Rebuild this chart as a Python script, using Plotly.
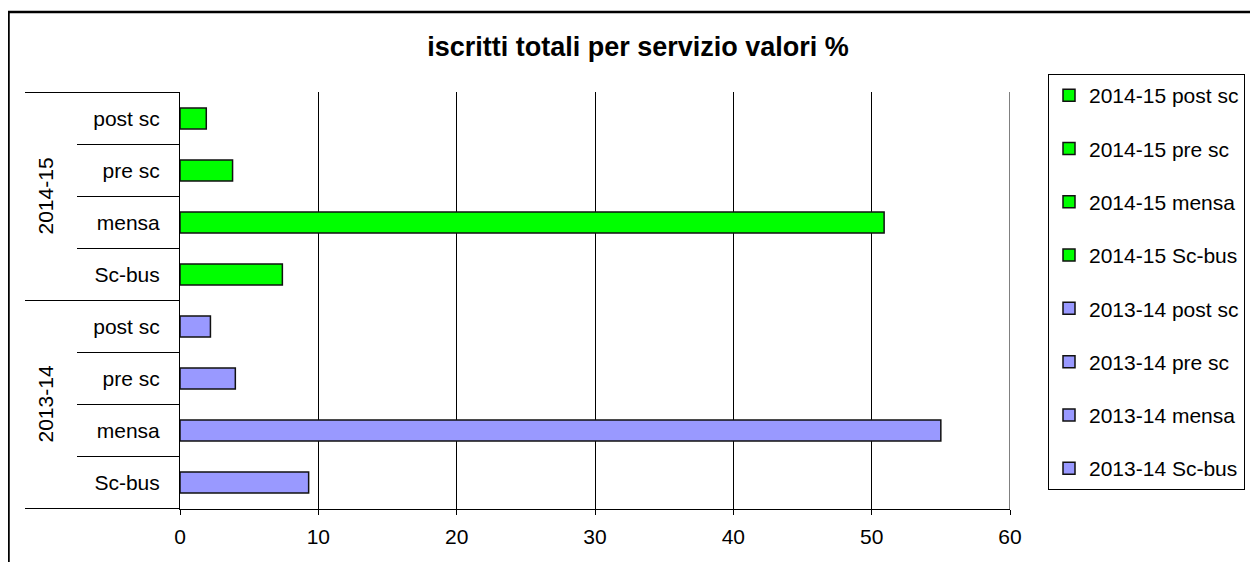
import plotly.graph_objects as go

# DATA
groups = ['2014-15', '2013-14']
services = ['post sc', 'pre sc', 'mensa', 'Sc-bus']
values_2014_15 = [1.9, 3.8, 50.9, 7.4]
values_2013_14 = [2.2, 4.0, 55.0, 9.3]
x_ticks = [0, 10, 20, 30, 40, 50, 60]

GREEN = '#00FF00'
LAVENDER = '#9999FF'
FONT = 'Liberation Sans, Arial, sans-serif'

# the page body adds an 8px offset, so the figure is drawn 8px smaller
OFF = 8
W, H = 1258 - OFF, 562 - OFF
L, R, T, B = 180, 1010, 92, 509   # plot area, in page pixels


def px_x(p):
    return (p - L) / (R - L)


def px_y(p):
    return (B - p) / (B - T)


# categories bottom-up
cat_order = []
for g in reversed(groups):
    for s in reversed(services):
        cat_order.append(f'{g} {s}')

fig = go.Figure()
series = [(groups[0], values_2014_15, GREEN), (groups[1], values_2013_14, LAVENDER)]
for g, vals, col in series:
    for s, v in zip(services, vals):
        name = f'{g} {s}'
        fig.add_trace(go.Bar(
            x=[v], y=[name], orientation='h', name=name, legendgroup=name,
            width=0.4,
            marker=dict(color=col, line=dict(color='#111111', width=1.5)),
        ))

shapes = []
# separators in the left margin
for i in range(len(cat_order) + 1):
    yy = i - 0.5
    x0 = 25 if i % 4 == 0 else 77
    shapes.append(dict(type='line', xref='paper', yref='y', x0=px_x(x0), x1=0,
                       y0=yy, y1=yy, line=dict(color='black', width=1)))
# gridline at the right end of the axis
shapes.append(dict(type='line', xref='x', yref='paper', x0=x_ticks[-1], x1=x_ticks[-1],
                   y0=0, y1=1, line=dict(color='black', width=1)))
# outer frame
shapes.append(dict(type='rect', xref='paper', yref='paper',
                   x0=px_x(8.5), x1=px_x(1290), y0=px_y(12), y1=px_y(600),
                   line=dict(color='black', width=2.5)))

annotations = []
for k, g in enumerate(reversed(groups)):
    annotations.append(dict(text=g, xref='paper', yref='y', x=px_x(45), y=1.5 + 4 * k,
                            xanchor='center', yanchor='middle',
                            textangle=-90, showarrow=False,
                            font=dict(size=21, color='black', family=FONT)))

fig.update_layout(
    width=W, height=H,
    margin=dict(l=L - OFF, r=W + OFF - R, t=T - OFF, b=H + OFF - B, autoexpand=False),
    paper_bgcolor='white', plot_bgcolor='white',
    font=dict(family=FONT, size=21, color='black'),
    barmode='overlay',
    title=dict(text='<b>iscritti totali per servizio valori %</b>', xref='container',
               yref='container',
               x=(638 - OFF) / W, y=1 - (47 - OFF) / H, xanchor='center', yanchor='middle',
               font=dict(size=27, color='black', family=FONT)),
    xaxis=dict(range=[0, 60], tickvals=x_ticks, showgrid=True, gridcolor='black',
               gridwidth=1, showline=True, linecolor='black', linewidth=1,
               ticks='outside', ticklen=5, tickcolor='black', zeroline=False,
               ticklabelstandoff=4, fixedrange=True),
    yaxis=dict(categoryorder='array', categoryarray=cat_order,
               tickvals=cat_order, ticktext=[c.split(' ', 1)[1] for c in cat_order],
               showline=True, linecolor='black', linewidth=1, ticks='',
               ticklabelstandoff=15, showgrid=False),
    legend=dict(x=px_x(1048), y=px_y(74), xanchor='left', yanchor='top',
                bordercolor='black', borderwidth=1, bgcolor='white', maxheight=480,
                tracegroupgap=23, font=dict(size=21, color='black', family=FONT)),
    shapes=shapes,
    annotations=annotations,
)

fig.write_html('out.html')
